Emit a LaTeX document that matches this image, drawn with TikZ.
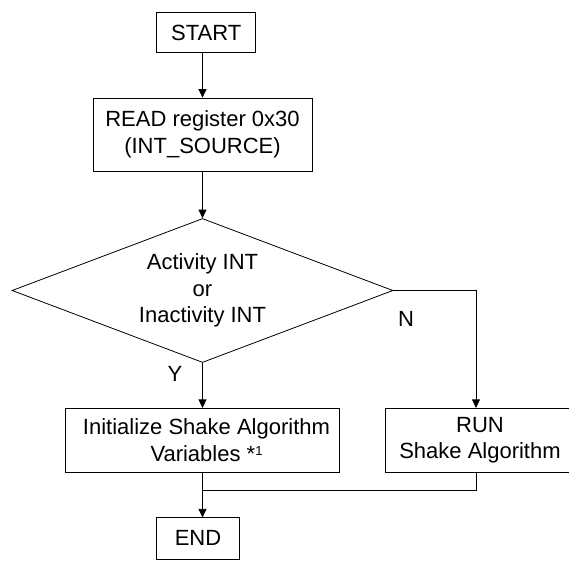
\documentclass[tikz,border=0pt]{standalone}
\usepackage{fontspec}
\setmainfont{Liberation Sans}
\usetikzlibrary{shapes.geometric,arrows.meta,calc}
\begin{document}
\begin{tikzpicture}[x=1pt,y=-1pt,
  every node/.style={font=\fontsize{22}{26.5}\selectfont, text=black},
  box/.style={draw, line width=0.8pt, rectangle, inner sep=0pt, align=center},
  decision/.style={draw, line width=0.8pt, diamond, aspect=2.646, inner sep=0pt, align=center},
  conn/.style={line width=0.8pt},
  arr/.style={conn, -{Triangle[length=8.5pt,width=8pt]}},
  lbl/.style={inner sep=0pt}]
\useasboundingbox (0,0) rectangle (569,560);
\fill[white] (0,0) rectangle (569,560);

\node[box, minimum width=99pt, minimum height=39.6pt] (start) at (206.2,32.5) {START};
\node[box, minimum width=219pt, minimum height=73pt] (read) at (202.5,134.5) {READ register 0x30\\(INT\_SOURCE)};
\node[decision, minimum width=381pt, minimum height=144pt] (dec) at (202.5,290.5) {Activity INT\\or\\Inactivity INT};
\node[box, minimum width=273.6pt, minimum height=64pt] (init) at (202.5,440.3) {\hspace*{8pt}Initialize Shake Algorithm\\\hspace*{8pt}Variables *\raisebox{0.55ex}{\fontsize{13}{13}\selectfont 1}};
\node[box, minimum width=215pt, minimum height=64pt] (run) at (492.5,440.3) {RUN\hspace*{25pt}\\Shake Algorithm\hspace*{25pt}};
\node[box, minimum width=82.6pt, minimum height=41.3pt] (end) at (198,538.4) {END};

\node[lbl] (ylab) at (175,374) {Y};
\node[lbl] (nlab) at (406,318.5) {N};

\coordinate (ncorner) at (476,290.5);
\coordinate (merge) at (202.5,490.7);

\draw[arr] (start.south -| read.north) -- (read.north);
\draw[arr] (read.south) -- (dec.north);
\draw[arr] (dec.south) -- (init.north);
\draw[arr] (dec.east) -- (ncorner) -- (ncorner |- run.north);
\draw[conn] (ncorner |- run.south) |- (merge);
\draw[arr] (init.south) -- (init.south |- end.north);
\end{tikzpicture}
\end{document}
